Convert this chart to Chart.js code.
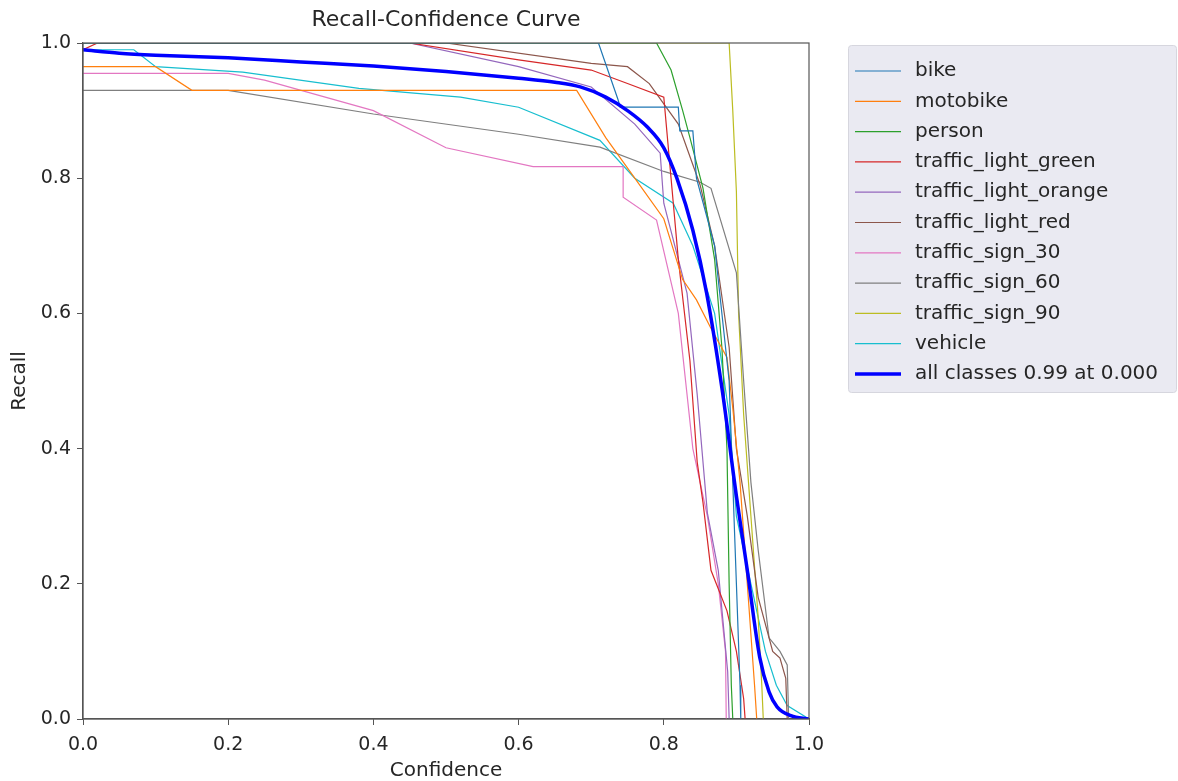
<!DOCTYPE html>
<html>
<head>
<meta charset="utf-8">
<title>Recall-Confidence Curve</title>
<script src="https://cdn.jsdelivr.net/npm/chart.js@4.4.1/dist/chart.umd.min.js"></script>
<style>
    html, body { margin: 0; padding: 0; background: #fff; }
    canvas { display: block; }
</style>
</head>
<body>
<canvas id="graficoRecall" width="1178" height="781"></canvas>
<script>
// valores: pares [confiança, recall]
const bike = [[0, 1], [0.71, 1], [0.737, 0.916], [0.74, 0.905], [0.82, 0.905], [0.822, 0.87], [0.84, 0.87],
    [0.845, 0.8], [0.87, 0.7], [0.89, 0.5], [0.9, 0.2], [0.905, 0.05], [0.906, 0]];
const motobike = [[0, 0.965], [0.1, 0.965], [0.15, 0.93], [0.68, 0.93], [0.72, 0.86], [0.76, 0.8], [0.8, 0.74],
    [0.826, 0.65], [0.845, 0.62], [0.864, 0.58], [0.887, 0.535], [0.895, 0.46], [0.905, 0.35], [0.915, 0.2],
    [0.925, 0.05], [0.928, 0]];
const person = [[0, 1], [0.79, 1], [0.81, 0.96], [0.826, 0.9], [0.836, 0.86], [0.854, 0.785], [0.87, 0.68],
    [0.88, 0.55], [0.887, 0.4], [0.89, 0.2], [0.893, 0.05], [0.895, 0]];
const trafficLightGreen = [[0, 0.99], [0.02, 1], [0.45, 1], [0.6, 0.975], [0.7, 0.96], [0.75, 0.94], [0.8, 0.92],
    [0.81, 0.8], [0.82, 0.68], [0.836, 0.53], [0.846, 0.38], [0.854, 0.32], [0.865, 0.22], [0.887, 0.16],
    [0.9, 0.1], [0.91, 0.03], [0.912, 0]];
const trafficLightOrange = [[0, 1], [0.45, 1], [0.6, 0.965], [0.7, 0.935], [0.76, 0.88], [0.795, 0.837],
    [0.8, 0.763], [0.82, 0.68], [0.832, 0.63], [0.846, 0.48], [0.86, 0.305], [0.875, 0.22], [0.888, 0.07], [0.89, 0]];
const trafficLightRed = [[0, 1], [0.5, 1], [0.7, 0.97], [0.75, 0.965], [0.78, 0.94], [0.82, 0.88], [0.85, 0.79],
    [0.87, 0.7], [0.89, 0.55], [0.9, 0.4], [0.915, 0.3], [0.93, 0.18], [0.95, 0.1], [0.96, 0.09], [0.968, 0.06], [0.97, 0]];
const trafficSign30 = [[0, 0.955], [0.2, 0.955], [0.25, 0.945], [0.4, 0.9], [0.5, 0.845], [0.62, 0.817],
    [0.744, 0.817], [0.744, 0.772], [0.79, 0.738], [0.82, 0.6], [0.83, 0.5], [0.84, 0.4], [0.86, 0.3],
    [0.875, 0.2], [0.885, 0.1], [0.886, 0]];
const trafficSign60 = [[0, 0.93], [0.2, 0.93], [0.4, 0.895], [0.6, 0.865], [0.712, 0.846], [0.8, 0.81],
    [0.85, 0.794], [0.865, 0.785], [0.9, 0.66], [0.91, 0.5], [0.92, 0.35], [0.93, 0.25], [0.945, 0.12],
    [0.96, 0.1], [0.97, 0.08], [0.972, 0]];
const trafficSign90 = [[0, 1], [0.89, 1], [0.895, 0.9], [0.9, 0.78], [0.903, 0.6], [0.91, 0.45], [0.92, 0.3],
    [0.93, 0.15], [0.935, 0.05], [0.937, 0]];
const vehicle = [[0, 0.99], [0.07, 0.99], [0.1, 0.965], [0.22, 0.957], [0.38, 0.933], [0.52, 0.92],
    [0.6, 0.905], [0.712, 0.856], [0.76, 0.8], [0.813, 0.763], [0.84, 0.7], [0.87, 0.6], [0.89, 0.45],
    [0.9, 0.3], [0.92, 0.2], [0.94, 0.1], [0.955, 0.05], [0.97, 0.02], [1, 0]];
const allClasses = [[0, 0.99], [0.05, 0.985], [0.1, 0.982], [0.2, 0.978], [0.3, 0.972], [0.4, 0.966],
    [0.5, 0.958], [0.6, 0.948], [0.65, 0.942], [0.685, 0.935], [0.72, 0.92], [0.75, 0.9], [0.777, 0.876],
    [0.8, 0.845], [0.818, 0.8], [0.84, 0.723], [0.859, 0.63], [0.88, 0.49], [0.9, 0.33], [0.915, 0.22],
    [0.932, 0.092], [0.945, 0.04], [0.956, 0.018], [0.975, 0.005], [1, 0]];

const classes = ['bike', 'motobike', 'person', 'traffic_light_green', 'traffic_light_orange',
    'traffic_light_red', 'traffic_sign_30', 'traffic_sign_60', 'traffic_sign_90', 'vehicle'];
const curvas = [bike, motobike, person, trafficLightGreen, trafficLightOrange,
    trafficLightRed, trafficSign30, trafficSign60, trafficSign90, vehicle];
const cores = ['#1f77b4', '#ff7f0e', '#2ca02c', '#d62728', '#9467bd',
    '#8c564b', '#e377c2', '#7f7f7f', '#bcbd22', '#17becf'];
const xTicks = [0, 0.2, 0.4, 0.6, 0.8, 1.0];
const yTicks = [0, 0.2, 0.4, 0.6, 0.8, 1.0];
const titulo = 'Recall-Confidence Curve';

const fonte = 'DejaVu Sans, sans-serif';
const toPoints = pares => pares.map(([x, y]) => ({ x, y }));

const datasets = classes.map((nome, i) => ({
    label: nome,
    data: toPoints(curvas[i]),
    borderColor: cores[i],
    borderWidth: 1.2,
    order: 1
}));
datasets.push({
    label: 'all classes 0.99 at 0.000',
    data: toPoints(allClasses),
    borderColor: '#0000ff',
    borderWidth: 3.5,
    cubicInterpolationMode: 'monotone',
    order: 0
});

// moldura (os 4 lados, como no matplotlib) e título centrado na área do gráfico
const molduraPlugin = {
    id: 'moldura',
    afterDatasetsDraw(chart) {
        const { ctx, chartArea: a } = chart;
        ctx.save();
        ctx.strokeStyle = '#555';
        ctx.lineWidth = 1.2;
        ctx.strokeRect(a.left, a.top, a.right - a.left, a.bottom - a.top);
        ctx.fillStyle = '#262626';
        ctx.font = '22px ' + fonte;
        ctx.textAlign = 'center';
        ctx.textBaseline = 'middle';
        ctx.fillText(titulo, (a.left + a.right) / 2, a.top - 23);
        ctx.restore();
    }
};

// legenda desenhada à direita, fora da área do gráfico
const legendaPlugin = {
    id: 'legenda',
    afterDraw(chart) {
        const { ctx, chartArea: a } = chart;
        const x0 = a.right + 39, y0 = a.top + 2, w = 328, h = 347;
        ctx.save();
        ctx.fillStyle = '#eaeaf2';
        ctx.strokeStyle = '#d6d6de';
        ctx.lineWidth = 1;
        ctx.beginPath();
        ctx.roundRect(x0 + 0.5, y0 + 0.5, w, h, 3);
        ctx.fill();
        ctx.stroke();

        ctx.font = '20px ' + fonte;
        ctx.textBaseline = 'middle';
        chart.data.datasets.forEach((ds, i) => {
            const y = y0 + 26 + i * 30.3;
            ctx.strokeStyle = ds.borderColor;
            ctx.lineWidth = ds.borderWidth;
            ctx.beginPath();
            ctx.moveTo(x0 + 7, y);
            ctx.lineTo(x0 + 53, y);
            ctx.stroke();
            ctx.fillStyle = '#262626';
            ctx.fillText(ds.label, x0 + 67, y);
        });
        ctx.restore();
    }
};

const ctx = document.getElementById('graficoRecall').getContext('2d');
const graficoRecall = new Chart(ctx, {
    type: 'line',
    data: { datasets },
    options: {
        responsive: false,
        animation: false,
        events: [],
        elements: {
            point: { radius: 0 },
            line: { tension: 0, fill: false }
        },
        layout: { padding: { top: 43, right: 369, left: 0, bottom: 0 } },
        plugins: {
            legend: { display: false },
            tooltip: { enabled: false },
            title: { display: false }
        },
        scales: {
            x: {
                type: 'linear',
                min: 0,
                max: 1,
                afterFit(scale) { scale.height = 62; },
                afterBuildTicks(scale) { scale.ticks = xTicks.map(v => ({ value: v })); },
                grid: { drawOnChartArea: false, tickLength: 6, color: '#555' },
                border: { color: '#555', width: 1.2 },
                ticks: {
                    color: '#262626',
                    padding: 9,
                    font: { family: fonte, size: 19 },
                    callback: v => v.toFixed(1)
                },
                title: {
                    display: true,
                    text: 'Confidence',
                    color: '#262626',
                    font: { family: fonte, size: 20 },
                    padding: { top: 0, bottom: -2 }
                }
            },
            y: {
                type: 'linear',
                min: 0,
                max: 1,
                afterFit(scale) { scale.width = 83; },
                afterBuildTicks(scale) { scale.ticks = yTicks.map(v => ({ value: v })); },
                grid: { drawOnChartArea: false, tickLength: 6, color: '#555' },
                border: { color: '#555', width: 1.2 },
                ticks: {
                    color: '#262626',
                    padding: 6,
                    font: { family: fonte, size: 19 },
                    callback: v => v.toFixed(1)
                },
                title: {
                    display: true,
                    text: 'Recall',
                    color: '#262626',
                    font: { family: fonte, size: 20 },
                    padding: { top: 8, bottom: 0 }
                }
            }
        }
    },
    plugins: [molduraPlugin, legendaPlugin]
});
</script>
</body>
</html>
